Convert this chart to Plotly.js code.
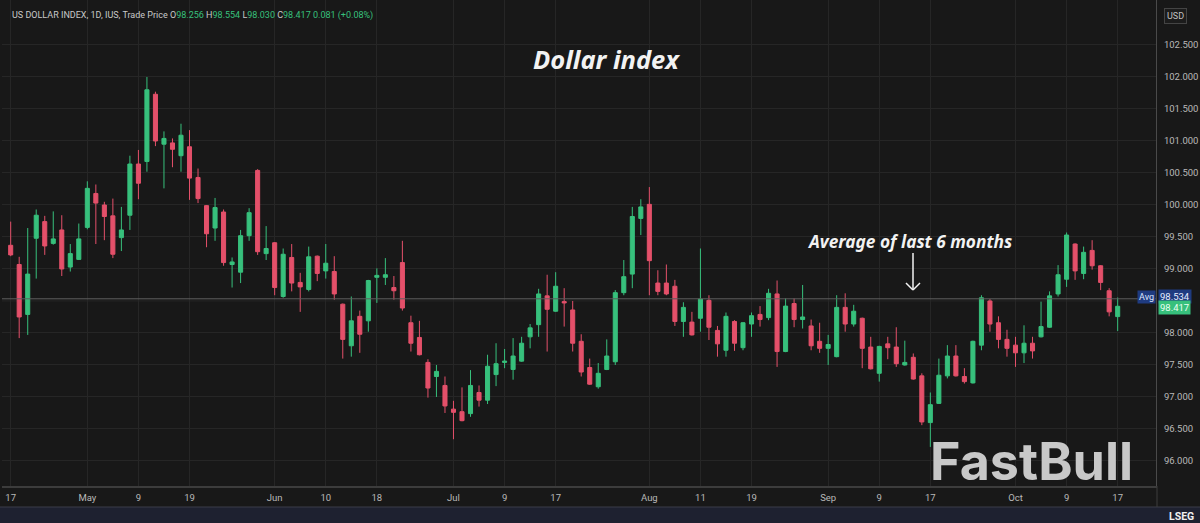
<!DOCTYPE html>
<html>
<head>
<meta charset="utf-8">
<script src="https://cdn.plot.ly/plotly-3.0.1.min.js"></script>
<style>
html,body{margin:0;padding:0;background:#181818;}
#chart{width:1200px;height:523px;}
</style>
</head>
<body>
<div id="chart"></div>
<script>
// Trading days (weekdays, Good Friday closed)
const startDate = '2025-04-17';
const endDate = '2025-10-17';
const closedDays = ['2025-04-18'];

const openP = [99.37,99.07,98.29,99.48,99.74,99.40,99.61,99.03,99.15,99.65,
100.18,100.00,99.83,99.49,99.84,100.64,100.68,101.73,100.95,100.97,
100.77,100.91,100.43,99.99,99.64,99.89,99.07,98.95,99.52,100.54,
99.24,99.41,98.57,99.18,98.79,98.68,99.20,98.97,98.96,98.45,
97.80,98.26,98.19,98.87,98.87,98.71,99.10,98.16,97.93,97.54,
97.32,97.18,96.81,96.77,96.74,97.07,96.95,97.35,97.54,97.43,
97.56,97.94,98.13,98.58,98.34,98.49,98.36,97.87,97.46,97.16,
97.43,97.55,98.63,98.92,99.79,100.01,98.78,98.78,98.73,98.18,
98.17,98.23,98.51,98.04,97.73,98.18,97.77,98.14,98.29,98.24,
98.61,97.71,98.46,98.21,98.11,97.87,97.76,97.63,98.40,98.14,
98.23,97.78,97.37,97.83,97.78,97.50,97.62,97.33,96.60,96.90,
97.33,97.64,97.32,97.22,97.81,98.50,98.16,97.90,97.81,97.69,
97.84,97.94,98.09,98.61,98.84,99.39,98.93,99.29,99.05,98.66,98.256];
const highP = [99.74,99.19,99.64,99.93,99.83,99.90,99.84,99.39,99.71,100.37,
100.32,100.05,100.10,99.97,100.77,100.86,102.00,101.77,101.15,101.04,
101.27,101.17,100.57,100.00,100.11,99.93,99.18,99.61,99.95,100.56,
99.67,99.42,99.32,99.39,98.94,99.35,99.21,99.39,99.20,98.46,
98.57,98.35,98.83,99.01,99.17,98.89,99.44,98.27,98.19,97.59,
97.50,97.32,96.94,97.15,97.42,97.18,97.66,97.84,97.75,97.92,
97.94,98.14,98.69,98.91,98.95,98.70,98.50,97.98,97.60,97.53,
97.90,98.67,99.14,99.97,100.09,100.28,98.98,99.07,98.83,98.48,
98.33,99.32,98.59,98.11,98.32,98.20,98.17,98.32,98.42,98.69,
98.82,98.54,98.54,98.75,98.21,98.16,97.97,98.59,98.62,98.44,
98.24,97.94,97.80,97.94,98.09,97.88,97.68,97.37,97.07,97.60,
97.81,97.81,97.45,97.88,98.59,98.53,98.26,98.05,97.94,98.12,
97.94,98.49,98.65,99.06,99.57,99.40,99.35,99.45,99.06,98.70,98.554];
const lowP = [99.20,97.92,97.97,98.85,99.22,99.38,98.89,98.96,99.14,99.62,
99.39,99.45,99.17,99.28,99.61,100.09,100.52,100.92,100.26,100.59,
100.52,100.08,100.03,99.34,99.44,99.05,98.71,98.78,99.44,99.22,
99.14,98.59,98.55,98.65,98.33,98.65,98.81,98.85,98.52,97.60,
97.63,97.69,98.02,98.47,98.75,98.52,98.35,97.71,97.65,96.99,
97.00,96.75,96.34,96.62,96.69,96.85,96.89,97.17,97.45,97.27,
97.55,97.76,97.94,97.71,98.33,98.10,97.71,97.32,97.19,97.13,
97.42,97.50,98.59,98.70,99.53,98.59,98.59,98.59,98.11,97.94,
97.96,98.02,97.89,97.63,97.63,97.72,97.73,97.94,98.10,98.20,
97.47,97.70,98.09,98.07,97.73,97.69,97.50,97.62,98.02,98.10,
97.45,97.43,97.24,97.59,97.47,97.49,97.27,96.56,96.22,96.89,
97.29,97.32,97.21,97.21,97.73,98.02,97.76,97.63,97.47,97.53,
97.60,97.93,98.08,98.57,98.72,98.83,98.84,98.99,98.67,98.26,98.030];
const closeP = [99.22,98.25,98.92,99.84,99.36,99.47,99.00,99.24,99.47,100.26,
100.03,99.82,99.23,99.61,100.64,100.34,101.80,101.00,101.04,100.87,
101.09,100.42,100.10,99.55,99.96,99.10,99.11,99.52,99.88,99.27,
99.32,98.71,99.23,98.78,98.72,99.19,98.93,99.09,98.61,97.90,
98.19,97.98,98.82,98.90,98.91,98.66,98.39,97.84,97.66,97.14,
97.40,96.86,96.76,96.63,97.18,96.95,97.48,97.52,97.56,97.64,
97.84,98.08,98.61,98.37,98.73,98.47,97.84,97.39,97.20,97.37,
97.64,98.63,98.88,99.82,99.97,99.13,98.65,98.61,98.18,98.40,
97.97,98.53,98.09,97.83,98.26,97.84,98.16,98.27,98.21,98.62,
97.71,98.42,98.21,98.25,97.80,97.76,97.82,98.40,98.14,98.34,
97.76,97.44,97.79,97.77,97.52,97.54,97.28,96.61,96.88,97.34,
97.64,97.33,97.24,97.87,98.55,98.14,97.90,97.76,97.69,97.84,
97.72,98.10,98.58,98.91,99.53,98.97,99.26,99.05,98.79,98.33,98.417];

const tickDates = ['2025-04-17','2025-05-01','2025-05-09','2025-05-19','2025-06-02','2025-06-10','2025-06-18',
'2025-07-01','2025-07-09','2025-07-17','2025-08-01','2025-08-11','2025-08-19','2025-09-01','2025-09-09',
'2025-09-17','2025-10-01','2025-10-09','2025-10-17'];
const tickLabels = ['17','May','9','19','Jun','10','18','Jul','9','17','Aug','11','19','Sep','9','17','Oct','9','17'];

// price-axis labels shown (98.500 is hidden behind the Avg / last-price tags)
const priceTicks = [96.0,96.5,97.0,97.5,98.0,99.0,99.5,100.0,100.5,101.0,101.5,102.0,102.5];
const gridLevels = [98.5];

const avgValue = 98.534;
const lastClose = 98.417;

function tradingDays(a, b, closed) {
  const out = [];
  const d = new Date(a + 'T00:00:00Z');
  const e = new Date(b + 'T00:00:00Z');
  while (d <= e) {
    const s = d.toISOString().slice(0, 10);
    const wd = d.getUTCDay();
    if (wd !== 0 && wd !== 6 && closed.indexOf(s) < 0) out.push(s);
    d.setUTCDate(d.getUTCDate() + 1);
  }
  return out;
}
const dates = tradingDays(startDate, endDate, closedDays);

const GREEN = '#37c07c';
const RED = '#e4506a';

const trace = {
  type: 'candlestick',
  x: dates, open: openP, high: highP, low: lowP, close: closeP,
  increasing: {line: {color: GREEN, width: 1}, fillcolor: GREEN},
  decreasing: {line: {color: RED, width: 1}, fillcolor: RED},
  whiskerwidth: 0,
  hoverinfo: 'skip'
};

const W = 1154, H = 486, L = 2; // plot area in px
const px = v => (v - L) / W;
const py = v => 1 - v / H;

const G = '#c9c9c9';
const SP = '&nbsp;';
const hdr = '<span style="color:' + G + '">US DOLLAR INDEX, 1D, IUS, Trade Price</span>' + SP +
  '<span style="color:' + G + '">O</span><span style="color:' + GREEN + '">98.256</span>' + SP +
  '<span style="color:' + G + '">H</span><span style="color:' + GREEN + '">98.554</span>' + SP +
  '<span style="color:' + G + '">L</span><span style="color:' + GREEN + '">98.030</span>' + SP +
  '<span style="color:' + G + '">C</span><span style="color:' + GREEN + '">98.417</span>' + SP +
  '<span style="color:' + GREEN + '">0.081 (+0.08%)</span>';

const shapes = [
  {type: 'line', xref: 'paper', yref: 'y', x0: 0, x1: 1, y0: gridLevels[0], y1: gridLevels[0],
   line: {color: '#262626', width: 1}, layer: 'below'},
  {type: 'line', xref: 'paper', yref: 'y', x0: 0, x1: 1, y0: avgValue, y1: avgValue,
   line: {color: '#5e5e5e', width: 1}},
  {type: 'rect', xref: 'paper', yref: 'paper', x0: px(0), x1: px(1200), y0: py(507), y1: py(523),
   fillcolor: '#1e2130', line: {width: 0}, layer: 'above'},
  {type: 'line', xref: 'paper', yref: 'paper', x0: px(0), x1: px(1200), y0: py(507), y1: py(507),
   line: {color: '#3a3d48', width: 1}},
  {type: 'line', xref: 'paper', yref: 'paper', x0: px(1157), x1: px(1157), y0: py(486), y1: py(507),
   line: {color: '#3c3c3c', width: 1}},
  {type: 'line', xref: 'paper', yref: 'paper', x0: px(913), x1: px(913), y0: py(253), y1: py(290),
   line: {color: '#f2f2f2', width: 1.5}},
  {type: 'line', xref: 'paper', yref: 'paper', x0: px(906), x1: px(913), y0: py(283), y1: py(290),
   line: {color: '#f2f2f2', width: 1.5}},
  {type: 'line', xref: 'paper', yref: 'paper', x0: px(920), x1: px(913), y0: py(283), y1: py(290),
   line: {color: '#f2f2f2', width: 1.5}}
];

const layout = {
  width: 1200, height: 523,
  margin: {l: 2, r: 44, t: 0, b: 37},
  paper_bgcolor: '#181818',
  plot_bgcolor: '#181818',
  showlegend: false,
  boxgap: 0.32,
  title: {
    text: '<b><i>Dollar index</i></b>',
    font: {family: 'Noto Sans', size: 25.5, color: '#f2f2f2'},
    x: 0.505, xanchor: 'center', y: 1 - 60 / 523, yanchor: 'middle'
  },
  xaxis: {
    type: 'category',
    range: [-1.02, 134.5],
    rangeslider: {visible: false},
    tickmode: 'array', tickvals: tickDates, ticktext: tickLabels,
    tickfont: {family: 'Roboto', size: 9.5, color: '#b8b8b8'},
    ticks: 'outside', ticklen: 2, tickcolor: 'rgba(0,0,0,0)',
    showgrid: true, gridcolor: '#262626', gridwidth: 1,
    showline: true, linecolor: '#3c3c3c', linewidth: 2,
    zeroline: false, fixedrange: true
  },
  yaxis: {
    side: 'right',
    range: [95.609, 103.203],
    tickmode: 'array', tickvals: priceTicks, tickformat: '.3f',
    tickfont: {family: 'Roboto', size: 9.5, color: '#b8b8b8'},
    ticks: 'outside', ticklen: 5, tickcolor: 'rgba(0,0,0,0)',
    showgrid: true, gridcolor: '#262626', gridwidth: 1,
    showline: true, linecolor: '#4a4a4a', linewidth: 1, mirror: false,
    zeroline: false, fixedrange: true
  },
  shapes: shapes,
  annotations: [
    {text: hdr, xref: 'paper', yref: 'paper', x: px(10), y: py(16), xanchor: 'left', yanchor: 'middle',
     showarrow: false, font: {family: 'Roboto', size: 9, color: G}},
    {text: '<b><i>Average of last 6 months</i></b>', xref: 'paper', yref: 'paper', x: px(909), y: py(241),
     xanchor: 'center', yanchor: 'middle', showarrow: false,
     font: {family: 'Noto Sans', size: 17.3, color: '#f2f2f2'}},
    {text: '<b>FastBull</b>', xref: 'paper', yref: 'paper', x: px(1031), y: py(461),
     xanchor: 'center', yanchor: 'middle', showarrow: false,
     font: {family: 'Inter', size: 52, color: '#c8c8c8'}},
    {text: 'USD', xref: 'paper', yref: 'paper', x: px(1175), y: py(16), xanchor: 'center', yanchor: 'middle',
     showarrow: false, font: {family: 'Roboto', size: 9, color: '#c0c0c0'},
     bordercolor: '#444', borderwidth: 1, borderpad: 2, bgcolor: '#1c1c1c'},
    {text: 'Avg', xref: 'paper', yref: 'y', x: px(1156), y: avgValue, yshift: 2, xanchor: 'right', yanchor: 'middle',
     showarrow: false, font: {family: 'Roboto', size: 9, color: '#dfe6ff'}, bgcolor: '#1f3b80', borderpad: 1},
    {text: avgValue.toFixed(3), xref: 'paper', yref: 'y', x: px(1158), y: avgValue, yshift: 2, xanchor: 'left', yanchor: 'middle',
     showarrow: false, font: {family: 'Roboto', size: 9.5, color: '#e6ecff'}, bgcolor: '#1f3b80', borderpad: 1},
    {text: lastClose.toFixed(3), xref: 'paper', yref: 'y', x: px(1158), y: lastClose, yshift: -1, xanchor: 'left', yanchor: 'middle',
     showarrow: false, font: {family: 'Roboto', size: 9.5, color: '#eafff2'}, bgcolor: GREEN, borderpad: 1},
    {text: '<b>LSEG</b>', xref: 'paper', yref: 'paper', x: px(1196), y: py(516), xanchor: 'right', yanchor: 'middle',
     showarrow: false, font: {family: 'Roboto', size: 10.5, color: '#f0f0f0'}}
  ]
};

Plotly.newPlot('chart', [trace], layout, {displayModeBar: false, staticPlot: true});
</script>
</body>
</html>
